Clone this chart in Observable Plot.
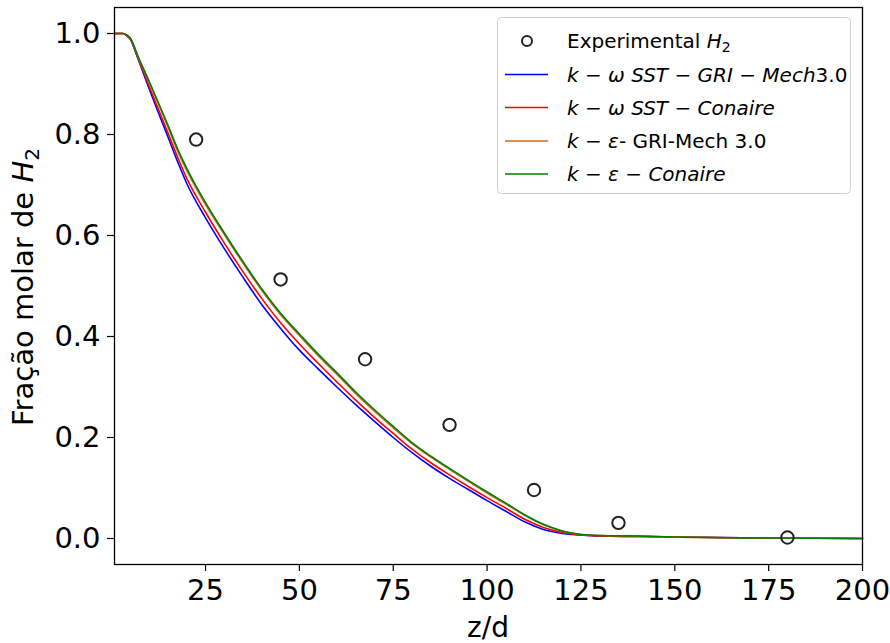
<!DOCTYPE html>
<html>
<head>
<meta charset="utf-8">
<script src="https://cdn.jsdelivr.net/npm/d3@7"></script>
<script src="https://cdn.jsdelivr.net/npm/@observablehq/plot@0.6"></script>
<style>
  html, body { margin: 0; padding: 0; background: white; }
  #chart { width: 890px; height: 643px; }
</style>
</head>
<body>
<div id="chart"></div>
<script>
// ---- data ----
const zd = [0.75, 3, 4, 5, 7, 10, 15, 18, 20, 25, 30, 35, 40, 45, 50, 55, 60, 65, 70, 75, 80, 85, 90, 95, 100, 105, 110, 115, 120, 125, 130, 140, 150, 175, 200];
const kwGRI = [1, 1, 0.996, 0.988, 0.95, 0.89, 0.795, 0.738, 0.703, 0.635, 0.574, 0.517, 0.463, 0.416, 0.373, 0.336, 0.3, 0.265, 0.232, 0.2, 0.17, 0.143, 0.119, 0.097, 0.075, 0.054, 0.033, 0.018, 0.01, 0.007, 0.005, 0.004, 0.003, 0.001, 0];
const kwConaire = [1, 1, 0.996, 0.989, 0.952, 0.895, 0.803, 0.747, 0.713, 0.646, 0.585, 0.528, 0.475, 0.427, 0.385, 0.347, 0.31, 0.274, 0.24, 0.208, 0.177, 0.15, 0.126, 0.103, 0.081, 0.06, 0.038, 0.022, 0.012, 0.007, 0.005, 0.004, 0.003, 0.001, 0];
const keGRI = [1, 1, 0.997, 0.99, 0.954, 0.903, 0.815, 0.76, 0.729, 0.661, 0.602, 0.545, 0.491, 0.443, 0.402, 0.362, 0.325, 0.287, 0.252, 0.219, 0.188, 0.161, 0.137, 0.113, 0.09, 0.068, 0.046, 0.027, 0.015, 0.008, 0.006, 0.005, 0.003, 0.001, 0];
const keConaire = [1, 1, 0.997, 0.99, 0.955, 0.905, 0.818, 0.764, 0.733, 0.665, 0.605, 0.548, 0.494, 0.446, 0.405, 0.365, 0.328, 0.29, 0.255, 0.222, 0.19, 0.163, 0.139, 0.115, 0.092, 0.07, 0.047, 0.028, 0.015, 0.008, 0.006, 0.005, 0.003, 0.001, 0];

const expX = [22.5, 45, 67.5, 90, 112.5, 135, 180];
const expY = [0.79, 0.513, 0.355, 0.225, 0.096, 0.031, 0.002];

const xTicks = [25, 50, 75, 100, 125, 150, 175, 200];
const yTicks = [0, 0.2, 0.4, 0.6, 0.8, 1.0];

const seriesNames = ["kwGRI", "kwConaire", "keGRI", "keConaire"];
const seriesValues = [kwGRI, kwConaire, keGRI, keConaire];
const seriesColors = ["#0000ff", "#ff0000", "#d2691e", "#008000"];

const lineRows = [];
seriesNames.forEach((name, i) => {
  zd.forEach((x, j) => lineRows.push({series: name, x, y: seriesValues[i][j]}));
});
const expRows = expX.map((x, i) => ({x, y: expY[i]}));

const lineMarks = seriesNames.map((name, i) =>
  Plot.line(lineRows.filter(d => d.series === name), {
    x: "x", y: "y", stroke: seriesColors[i], strokeWidth: 1.6, curve: "monotone-x"
  })
);

const chart = Plot.plot({
  width: 890,
  height: 643,
  marginLeft: 114,
  marginRight: 28,
  marginTop: 7,
  marginBottom: 79,
  x: {domain: [0.75, 200]},
  y: {domain: [-0.0515, 1.0515]},
  style: {fontFamily: "DejaVu Sans", fontSize: "29px", color: "#000", background: "white", overflow: "visible"},
  marks: [
    Plot.axisX({ticks: xTicks, tickSize: 7, tickPadding: 8, label: null, stroke: "#000", strokeWidth: 1.2}),
    Plot.axisY({ticks: yTicks, tickSize: 7, tickPadding: 7, tickFormat: d => d.toFixed(1), label: null, stroke: "#000", strokeWidth: 1.2}),
    ...lineMarks,
    Plot.dot(expRows, {x: "x", y: "y", r: 6.2, stroke: "#222", strokeWidth: 2, fill: "none"}),
    Plot.frame({stroke: "#000", strokeWidth: 1.3})
  ]
});
document.getElementById("chart").appendChild(chart);

// ---- labels and legend ----
const svg = d3.select(chart);
const ns = "DejaVu Sans";

// x label
svg.append("text")
  .attr("x", 488).attr("y", 637)
  .attr("text-anchor", "middle")
  .style("font-family", ns).style("font-size", "28px").attr("fill", "#000")
  .text("z/d");

// y label
const yl = svg.append("text")
  .attr("transform", "translate(33,287) rotate(-90)")
  .attr("text-anchor", "middle")
  .style("font-family", ns).style("font-size", "29px").attr("fill", "#000");
yl.append("tspan").text("Fração molar de ");
yl.append("tspan").style("font-style", "italic").text("H");
yl.append("tspan").attr("dy", 6).style("font-size", "20px").text("2");

// legend
const lg = svg.append("g");
lg.append("rect")
  .attr("x", 497.5).attr("y", 17.5).attr("width", 353).attr("height", 176)
  .attr("rx", 4).attr("fill", "white").attr("fill-opacity", 0.8)
  .attr("stroke", "#d0d0d0").attr("stroke-width", 1);

const rowY = [41, 74.5, 107.5, 141, 174];
const fs = "20px";
// row 0: experimental
lg.append("circle").attr("cx", 527).attr("cy", rowY[0]).attr("r", 5)
  .attr("fill", "none").attr("stroke", "#222").attr("stroke-width", 2);

function legendText(y, parts) {
  const t = lg.append("text").attr("x", 567).attr("y", y + 7)
    .attr("text-anchor", "start")
    .style("font-family", ns).style("font-size", fs).attr("fill", "#000");
  parts.forEach(p => {
    const s = t.append("tspan").text(p.t);
    if (p.i) s.style("font-style", "italic");
    if (p.sub) s.attr("dy", 4).style("font-size", "14px");
  });
}
legendText(rowY[0], [{t: "Experimental "}, {t: "H", i: true}, {t: "2", sub: true}]);

const legendParts = [
  [{t: "k", i: true}, {t: " − "}, {t: "ω", i: true}, {t: " "}, {t: "SST", i: true}, {t: " − "}, {t: "GRI", i: true}, {t: " − "}, {t: "Mech", i: true}, {t: "3.0"}],
  [{t: "k", i: true}, {t: " − "}, {t: "ω", i: true}, {t: " "}, {t: "SST", i: true}, {t: " − "}, {t: "Conaire", i: true}],
  [{t: "k", i: true}, {t: " − "}, {t: "ε", i: true}, {t: "- GRI-Mech 3.0"}],
  [{t: "k", i: true}, {t: " − "}, {t: "ε", i: true}, {t: " − "}, {t: "Conaire", i: true}]
];
seriesColors.forEach((c, i) => {
  const y = rowY[i + 1];
  lg.append("line").attr("x1", 505).attr("x2", 548).attr("y1", y).attr("y2", y)
    .attr("stroke", c).attr("stroke-width", 1.6);
  legendText(y, legendParts[i]);
});
</script>
</body>
</html>
